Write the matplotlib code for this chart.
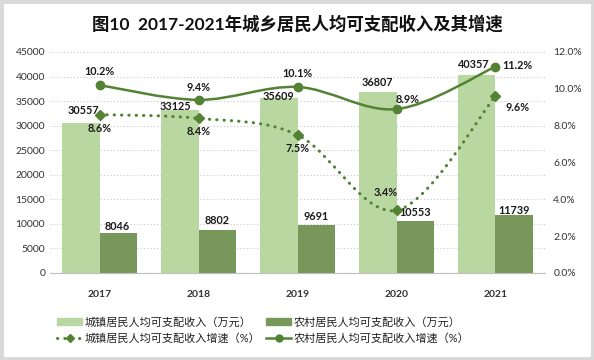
import matplotlib

matplotlib.use("Agg")
import matplotlib.pyplot as plt
from matplotlib.path import Path
from matplotlib.patches import PathPatch, Patch, Rectangle
from matplotlib.lines import Line2D
import numpy as np

plt.rcParams["font.family"] = ["Lato", "Noto Sans CJK SC", "DejaVu Sans"]

years = ["2017", "2018", "2019", "2020", "2021"]
urban_income = [30557, 33125, 35609, 36807, 40357]
rural_income = [8046, 8802, 9691, 10553, 11739]
urban_growth = [8.6, 8.4, 7.5, 3.4, 9.6]
rural_growth = [10.2, 9.4, 10.1, 8.9, 11.2]

light = "#b8d7a1"
dark = "#77975b"
line_c = "#548235"


def smooth_path(xs, ys):
    # catmull-rom -> cubic bezier, like excel's smoothed line
    pts = np.column_stack([xs, ys]).astype(float)
    ext = np.vstack([pts[0], pts, pts[-1]])
    verts = [pts[0]]
    codes = [Path.MOVETO]
    for i in range(1, len(ext) - 2):
        p0, p1, p2, p3 = ext[i - 1], ext[i], ext[i + 1], ext[i + 2]
        verts += [p1 + (p2 - p0) / 6, p2 - (p3 - p1) / 6, p2]
        codes += [Path.CURVE4] * 3
    return Path(verts, codes)


fig = plt.figure(figsize=(5.94, 3.6), dpi=100)
fig.patches.append(Rectangle((0, 0), 1, 1, transform=fig.transFigure, fill=False,
                             edgecolor="#d9d9d9", linewidth=5, zorder=10))

ax = fig.add_axes([0.0842, 0.2417, 0.8333, 0.6139])
x = np.arange(len(years))
w = 0.38
ax.bar(x - w / 2, urban_income, w, color=light, zorder=2)
ax.bar(x + w / 2, rural_income, w, color=dark, zorder=2)
ax.set_xlim(-0.5, 4.5)
ax.set_ylim(0, 45000)
ax.set_yticks(range(0, 45001, 5000))
ax.set_xticks(x)
ax.set_xticklabels(years, fontweight="bold", fontsize=7.5)
ax.tick_params(length=0, labelsize=7.5, colors="#333333")
ax.tick_params(axis="x", pad=12)
ax.grid(axis="y", linestyle=(0, (1, 2)), color="#c8c8c8", linewidth=0.8, zorder=0)
for s in ["top", "left", "right"]:
    ax.spines[s].set_visible(False)
ax.spines["bottom"].set_color("#bfbfbf")

urban_lab_off = [(2, 8.6), (-3, 2.9), (0, 0.9), (0, 7.2), (-2, 7.2)]
rural_lab_off = [(-1, 4.7), (0, 6.5), (0, 6.5), (0, 6.5), (0, 3.8)]
for i in range(len(years)):
    ax.annotate(str(urban_income[i]), (x[i] - w / 2, urban_income[i]), xytext=urban_lab_off[i],
                textcoords="offset points", ha="center", va="center", fontsize=7.8,
                fontweight="bold", color="#1a1a1a", zorder=5)
    ax.annotate(str(rural_income[i]), (x[i] + w / 2, rural_income[i]), xytext=rural_lab_off[i],
                textcoords="offset points", ha="center", va="center", fontsize=7.8,
                fontweight="bold", color="#1a1a1a", zorder=5)

ax2 = ax.twinx()
ax2.set_ylim(0, 12)
ax2.set_yticks(range(0, 13, 2))
ax2.set_yticklabels([f"{v:.1f}%" for v in range(0, 13, 2)])
ax2.tick_params(length=0, labelsize=7.5, colors="#333333", pad=6)
for s in ax2.spines.values():
    s.set_visible(False)

ax2.add_patch(PathPatch(smooth_path(x, rural_growth), fill=False, edgecolor=line_c,
                        linewidth=1.8, zorder=3))
ax2.plot(x, rural_growth, "o", color=line_c, markersize=6, zorder=4)
ax2.add_patch(PathPatch(smooth_path(x, urban_growth), fill=False, edgecolor=line_c,
                        linewidth=2.2, linestyle=(0, (0.1, 2.3)), capstyle="round", zorder=3))
ax2.plot(x, urban_growth, "D", color=line_c, markersize=5, zorder=4)

rural_off = [(0, 10), (0, 9), (0, 10), (8, 7), (16, 1)]
urban_off = [(0, -10), (0, -9.5), (0, -10), (-8, 13), (16, -8)]
for i in range(len(years)):
    ax2.annotate(f"{rural_growth[i]}%", (x[i], rural_growth[i]), xytext=rural_off[i],
                 textcoords="offset points", ha="center", va="center", fontsize=7.8,
                 fontweight="bold", color="#1a1a1a", zorder=6)
    ax2.annotate(f"{urban_growth[i]}%", (x[i], urban_growth[i]), xytext=urban_off[i],
                 textcoords="offset points", ha="center", va="center", fontsize=7.8,
                 fontweight="bold", color="#1a1a1a", zorder=6)

fig.text(0.5, 0.935, "图10  2017-2021年城乡居民人均可支配收入及其增速", ha="center", va="center",
         fontsize=12.5, fontweight="bold", color="#111111")

handles = [
    Patch(color=light, label="城镇居民人均可支配收入（万元）"),
    Line2D([], [], color=line_c, linestyle=(0, (0.1, 2.3)), linewidth=2.2,
           dash_capstyle="round", marker="D", markersize=4,
           label="城镇居民人均可支配收入增速（%）"),
    Patch(color=dark, label="农村居民人均可支配收入（万元）"),
    Line2D([], [], color=line_c, linewidth=1.8, marker="o", markersize=5,
           label="农村居民人均可支配收入增速（%）"),
]
fig.legend(handles=handles, ncol=2, loc="center", bbox_to_anchor=(0.443, 0.083),
           frameon=False, fontsize=8, handlelength=2.3, handleheight=0.6,
           columnspacing=0.5, handletextpad=0.2, labelspacing=0.45, labelcolor="#222222")

fig.savefig("out.png", dpi=100)
